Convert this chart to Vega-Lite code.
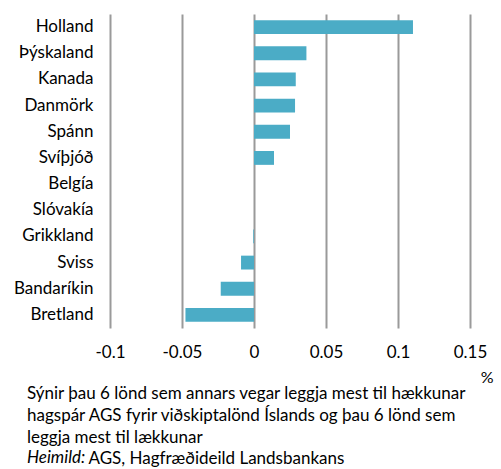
{
  "$schema": "https://vega.github.io/schema/vega-lite/v6.json",
  "width": 360,
  "height": 314,
  "autosize": {"type": "none"},
  "padding": {"left": 110, "top": 14, "right": 31, "bottom": 141},
  "background": "white",
  "config": {
    "view": {"stroke": null},
    "font": "Lato",
    "axis": {"labelFont": "Lato", "titleFont": "Lato"}
  },
  "title": {
    "text": [
      "Sýnir þau 6 lönd sem annars vegar leggja mest til hækkunar",
      "hagspár AGS fyrir viðskiptalönd Íslands og þau 6 lönd sem",
      "leggja mest til lækkunar"
    ],
    "subtitle": "Heimild:",
    "orient": "bottom",
    "anchor": "start",
    "frame": "group",
    "dx": -83,
    "offset": -80.3,
    "font": "Lato",
    "fontSize": 17,
    "fontWeight": "normal",
    "color": "#000000",
    "lineHeight": 21.8,
    "subtitleFont": "Lato",
    "subtitleFontSize": 17,
    "subtitleFontStyle": "italic",
    "subtitleColor": "#000000",
    "subtitlePadding": 3
  },
  "data": {
    "values": [
      {"land": "Holland", "gildi": 0.1104},
      {"land": "Þýskaland", "gildi": 0.0364},
      {"land": "Kanada", "gildi": 0.029},
      {"land": "Danmörk", "gildi": 0.0285},
      {"land": "Spánn", "gildi": 0.025},
      {"land": "Svíþjóð", "gildi": 0.0139},
      {"land": "Belgía", "gildi": 0},
      {"land": "Slóvakía", "gildi": 0},
      {"land": "Grikkland", "gildi": -0.0005},
      {"land": "Sviss", "gildi": -0.009},
      {"land": "Bandaríkin", "gildi": -0.0231},
      {"land": "Bretland", "gildi": -0.0476}
    ]
  },
  "mark": {"type": "bar", "color": "#4BACC6"},
  "encoding": {
    "y": {
      "field": "land",
      "type": "nominal",
      "sort": null,
      "scale": {"paddingInner": 0.47, "paddingOuter": 0.235},
      "axis": {
        "title": "AGS, Hagfræðideild Landsbankans",
        "titleAngle": 0,
        "titleX": -22,
        "titleY": 449.5,
        "titleAlign": "left",
        "titleBaseline": "alphabetic",
        "titleFontSize": 17,
        "titleFontWeight": "normal",
        "titleColor": "#000000",
        "domain": false,
        "ticks": false,
        "labelPadding": 17,
        "labelFontSize": 17,
        "labelColor": "#000000"
      }
    },
    "x": {
      "field": "gildi",
      "type": "quantitative",
      "scale": {"domain": [-0.1, 0.15], "nice": false, "zero": false},
      "axis": {
        "values": [-0.1, -0.05, 0, 0.05, 0.1, 0.15],
        "labelExpr": "'' + datum.value",
        "grid": true,
        "gridColor": "#9a9a9a",
        "gridWidth": 2,
        "gridOpacity": 1,
        "domain": false,
        "ticks": false,
        "labelPadding": 16,
        "labelFontSize": 17,
        "labelColor": "#000000",
        "labelFlush": false,
        "title": "%",
        "titleX": 383,
        "titleY": 49,
        "titleAlign": "right",
        "titleBaseline": "middle",
        "titleAnchor": null,
        "titleFontSize": 16,
        "titleFontWeight": "normal",
        "titleColor": "#000000"
      }
    }
  }
}
